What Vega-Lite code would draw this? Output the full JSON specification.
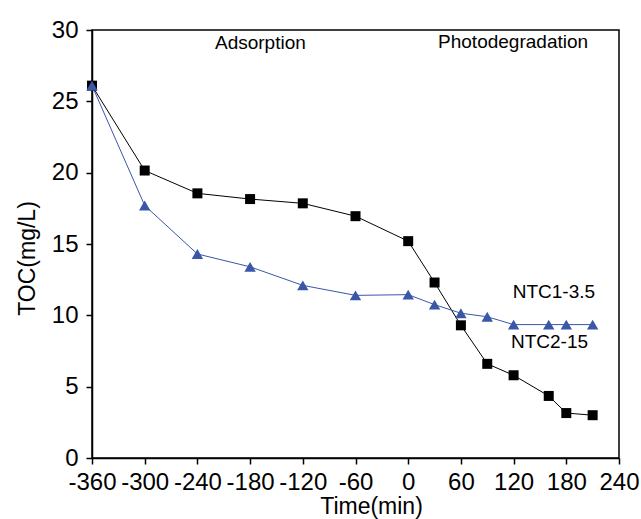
{
  "$schema": "https://vega.github.io/schema/vega-lite/v6.json",
  "width": 527,
  "height": 428,
  "autosize": {"type": "none"},
  "padding": {"left": 92, "top": 30, "right": 22, "bottom": 61},
  "background": "white",
  "config": {
    "view": {"stroke": "black", "strokeWidth": 1.5},
    "axis": {
      "labelFont": "Liberation Sans",
      "titleFont": "Liberation Sans",
      "labelFontSize": 24,
      "titleFontSize": 23,
      "titleFontWeight": "normal",
      "labelColor": "black",
      "titleColor": "black",
      "domainColor": "black",
      "domainWidth": 1.5,
      "tickColor": "black",
      "tickWidth": 1.5,
      "tickSize": 6,
      "grid": false
    }
  },
  "datasets": {
    "toc": [
      {"series": "NTC2-15", "time": -360, "toc": 26.1},
      {"series": "NTC2-15", "time": -300, "toc": 20.15},
      {"series": "NTC2-15", "time": -240, "toc": 18.55},
      {"series": "NTC2-15", "time": -180, "toc": 18.15},
      {"series": "NTC2-15", "time": -120, "toc": 17.85},
      {"series": "NTC2-15", "time": -60, "toc": 16.95},
      {"series": "NTC2-15", "time": 0, "toc": 15.2},
      {"series": "NTC2-15", "time": 30, "toc": 12.3},
      {"series": "NTC2-15", "time": 60, "toc": 9.3},
      {"series": "NTC2-15", "time": 90, "toc": 6.6},
      {"series": "NTC2-15", "time": 120, "toc": 5.8},
      {"series": "NTC2-15", "time": 160, "toc": 4.35},
      {"series": "NTC2-15", "time": 180, "toc": 3.15},
      {"series": "NTC2-15", "time": 210, "toc": 3.0},
      {"series": "NTC1-3.5", "time": -360, "toc": 26.1},
      {"series": "NTC1-3.5", "time": -300, "toc": 17.7},
      {"series": "NTC1-3.5", "time": -240, "toc": 14.3},
      {"series": "NTC1-3.5", "time": -180, "toc": 13.4},
      {"series": "NTC1-3.5", "time": -120, "toc": 12.1},
      {"series": "NTC1-3.5", "time": -60, "toc": 11.4},
      {"series": "NTC1-3.5", "time": 0, "toc": 11.45},
      {"series": "NTC1-3.5", "time": 30, "toc": 10.75},
      {"series": "NTC1-3.5", "time": 60, "toc": 10.15},
      {"series": "NTC1-3.5", "time": 90, "toc": 9.9},
      {"series": "NTC1-3.5", "time": 120, "toc": 9.35},
      {"series": "NTC1-3.5", "time": 160, "toc": 9.35},
      {"series": "NTC1-3.5", "time": 180, "toc": 9.35},
      {"series": "NTC1-3.5", "time": 210, "toc": 9.35}
    ],
    "notes": [
      {"label": "Adsorption", "time": -220, "toc": 29.1},
      {"label": "Photodegradation", "time": 34, "toc": 29.15},
      {"label": "NTC1-3.5", "time": 119, "toc": 11.65},
      {"label": "NTC2-15", "time": 117, "toc": 8.1}
    ]
  },
  "layer": [
    {
      "mark": {"type": "rule", "color": "black", "strokeWidth": 1},
      "encoding": {"x": {"datum": 0, "type": "quantitative"}}
    },
    {
      "data": {"name": "toc"},
      "mark": {"type": "line", "strokeWidth": 1},
      "encoding": {
        "x": {
          "field": "time", "type": "quantitative",
          "scale": {"domain": [-360, 240], "nice": false, "zero": false},
          "axis": {
            "title": "Time(min)",
            "values": [-360, -330, -300, -270, -240, -210, -180, -150, -120, -90, -60, -30, 0, 30, 60, 90, 120, 150, 180, 210, 240],
            "labelExpr": "datum.value % 60 === 0 ? '' + datum.value : ''",
            "labelPadding": 6,
            "labelFlush": false,
            "labelOverlap": false,
            "titlePadding": 1,
            "titleX": 279
          }
        },
        "y": {
          "field": "toc", "type": "quantitative",
          "scale": {"domain": [0, 30], "nice": false},
          "axis": {
            "title": "TOC(mg/L)",
            "values": [0, 2.5, 5, 7.5, 10, 12.5, 15, 17.5, 20, 22.5, 25, 27.5, 30],
            "labelExpr": "datum.value % 5 === 0 ? '' + datum.value : ''",
            "labelPadding": 8,
            "labelFlush": false,
            "labelOverlap": false,
            "titlePadding": 12,
            "titleY": 228
          }
        },
        "color": {
          "field": "series", "type": "nominal",
          "scale": {"domain": ["NTC2-15", "NTC1-3.5"], "range": ["#000000", "#3a57a8"]},
          "legend": null
        }
      }
    },
    {
      "data": {"name": "toc"},
      "mark": {"type": "point", "filled": true, "opacity": 1},
      "encoding": {
        "x": {"field": "time", "type": "quantitative"},
        "y": {"field": "toc", "type": "quantitative"},
        "color": {"field": "series", "type": "nominal", "legend": null},
        "shape": {
          "field": "series", "type": "nominal",
          "scale": {"domain": ["NTC2-15", "NTC1-3.5"], "range": ["square", "triangle-up"]},
          "legend": null
        },
        "size": {
          "field": "series", "type": "nominal",
          "scale": {"domain": ["NTC2-15", "NTC1-3.5"], "range": [100, 130]},
          "legend": null
        }
      }
    },
    {
      "data": {"name": "notes"},
      "mark": {"type": "text", "align": "left", "baseline": "middle", "font": "Liberation Sans", "fontSize": 19, "color": "black"},
      "encoding": {
        "x": {"field": "time", "type": "quantitative"},
        "y": {"field": "toc", "type": "quantitative"},
        "text": {"field": "label"}
      }
    }
  ]
}
